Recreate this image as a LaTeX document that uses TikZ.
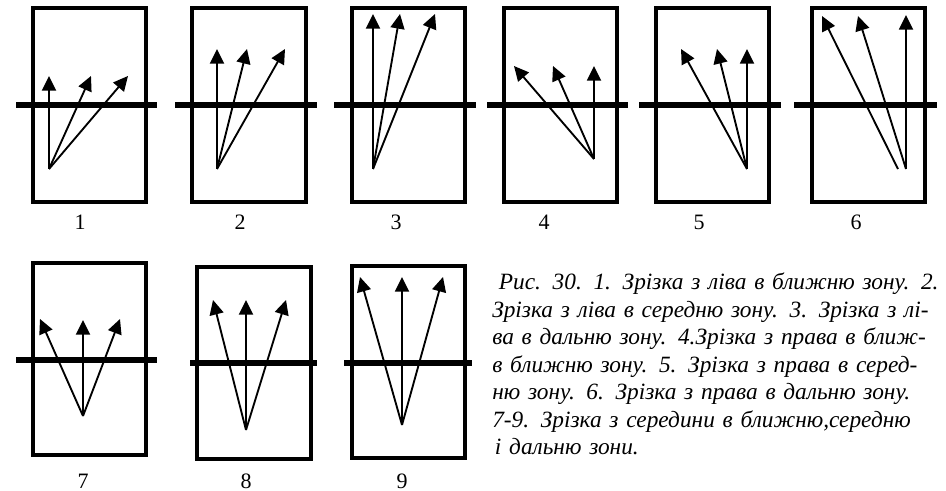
\documentclass[tikz,border=0pt]{standalone}
\usepackage{fontspec}
\setmainfont{Liberation Serif}
\usetikzlibrary{arrows.meta}

\begin{document}
\begin{tikzpicture}[
    x=0.75pt, y=-0.75pt,
    frame/.style={line width=3pt},
    zone/.style={line width=4.5pt},
    shot/.style={-{Triangle[length=11pt,width=10.5pt]}, line width=1.4pt},
    num/.style={font=\fontsize{16.5}{18}\selectfont, inner sep=0pt},
    capt/.style={font=\fontsize{17.5}{20.6}\selectfont\itshape, inner sep=0pt,
      text width=327pt, align=left, anchor=north west},
  ]
  \useasboundingbox (0,0) rectangle (946,491);

  % 1: left, near zone
  \draw[frame] (33,8) rectangle (146,202);
  \draw[zone] (16,105) -- (157,105);
  \coordinate (b1) at (49,169);
  \foreach \n/\x/\y in {a/49/76, b/91/76, c/128/76}
    {\coordinate (t1\n) at (\x,\y); \draw[shot] (b1) -- (t1\n);}
  \node[num] (n1) at (80,222) {1};

  % 2: left, middle zone
  \draw[frame] (192,8) rectangle (306,202);
  \draw[zone] (175,105) -- (317,105);
  \coordinate (b2) at (217,169);
  \foreach \n/\x/\y in {a/217/49, b/247/49, c/285/49}
    {\coordinate (t2\n) at (\x,\y); \draw[shot] (b2) -- (t2\n);}
  \node[num] (n2) at (240,222) {2};

  % 3: left, far zone
  \draw[frame] (352,8) rectangle (465,202);
  \draw[zone] (334,105) -- (476,105);
  \coordinate (b3) at (373,169);
  \foreach \n/\x/\y in {a/373/14, b/400/14, c/435/14}
    {\coordinate (t3\n) at (\x,\y); \draw[shot] (b3) -- (t3\n);}
  \node[num] (n3) at (396,222) {3};

  % 4: right, near zone
  \draw[frame] (504,8) rectangle (617,202);
  \draw[zone] (487,105) -- (628,105);
  \coordinate (b4) at (594,159);
  \foreach \n/\x/\y in {a/514/66, b/553/66, c/594/66}
    {\coordinate (t4\n) at (\x,\y); \draw[shot] (b4) -- (t4\n);}
  \node[num] (n4) at (544,222) {4};

  % 5: right, middle zone
  \draw[frame] (656,8) rectangle (769,202);
  \draw[zone] (639,105) -- (781,105);
  \coordinate (b5) at (747,169);
  \foreach \n/\x/\y in {a/681/49, b/717/49, c/747/49}
    {\coordinate (t5\n) at (\x,\y); \draw[shot] (b5) -- (t5\n);}
  \node[num] (n5) at (699,222) {5};

  % 6: right, far zone (left shot starts a bit aside)
  \draw[frame] (812,8) rectangle (925,202);
  \draw[zone] (794,105) -- (937,105);
  \coordinate (b6) at (906,169);
  \coordinate (b6l) at (898,169);
  \coordinate (t6a) at (822,16);
  \draw[shot] (b6l) -- (t6a);
  \foreach \n/\x/\y in {b/858/16, c/906/15}
    {\coordinate (t6\n) at (\x,\y); \draw[shot] (b6) -- (t6\n);}
  \node[num] (n6) at (856,222) {6};

  % 7-9: centre
  \draw[frame] (33,263) rectangle (146,455);
  \draw[zone] (16,360) -- (157,360);
  \coordinate (b7) at (83,416);
  \foreach \n/\x/\y in {a/40/319, b/83/320, c/120/319}
    {\coordinate (t7\n) at (\x,\y); \draw[shot] (b7) -- (t7\n);}
  \node[num] (n7) at (83,481) {7};

  \draw[frame] (197,267) rectangle (311,459);
  \draw[zone] (190,363) -- (317,363);
  \coordinate (b8) at (246,430);
  \foreach \n/\x/\y in {a/213/300, b/246/300, c/286/300}
    {\coordinate (t8\n) at (\x,\y); \draw[shot] (b8) -- (t8\n);}
  \node[num] (n8) at (246,481) {8};

  \draw[frame] (352,266) rectangle (465,458);
  \draw[zone] (344,363) -- (472,363);
  \coordinate (b9) at (402,425);
  \foreach \n/\x/\y in {a/360/277, b/402/277, c/443/277}
    {\coordinate (t9\n) at (\x,\y); \draw[shot] (b9) -- (t9\n);}
  \node[num] (n9) at (402,481) {9};

  % caption
  \node[capt] (caption) at (492,273) {%
    \makebox[\linewidth][s]{\hspace*{5pt}Рис. 30. 1. Зрізка з ліва в ближню зону. 2.}\\
    \makebox[\linewidth][s]{Зрізка з ліва в середню зону. 3. Зрізка з лі-}\\
    \makebox[\linewidth][s]{ва в дальню зону. 4.Зрізка з права в ближ-}\\
    \makebox[\linewidth][s]{в ближню зону. 5. Зрізка з права в серед-}\\
    \makebox[\linewidth][s]{ню зону. 6. Зрізка з права в дальню зону.}\\
    7-9. Зрізка з середини в ближню,середню\\
    \hspace*{2pt}і дальню зони.};
\end{tikzpicture}
\end{document}
